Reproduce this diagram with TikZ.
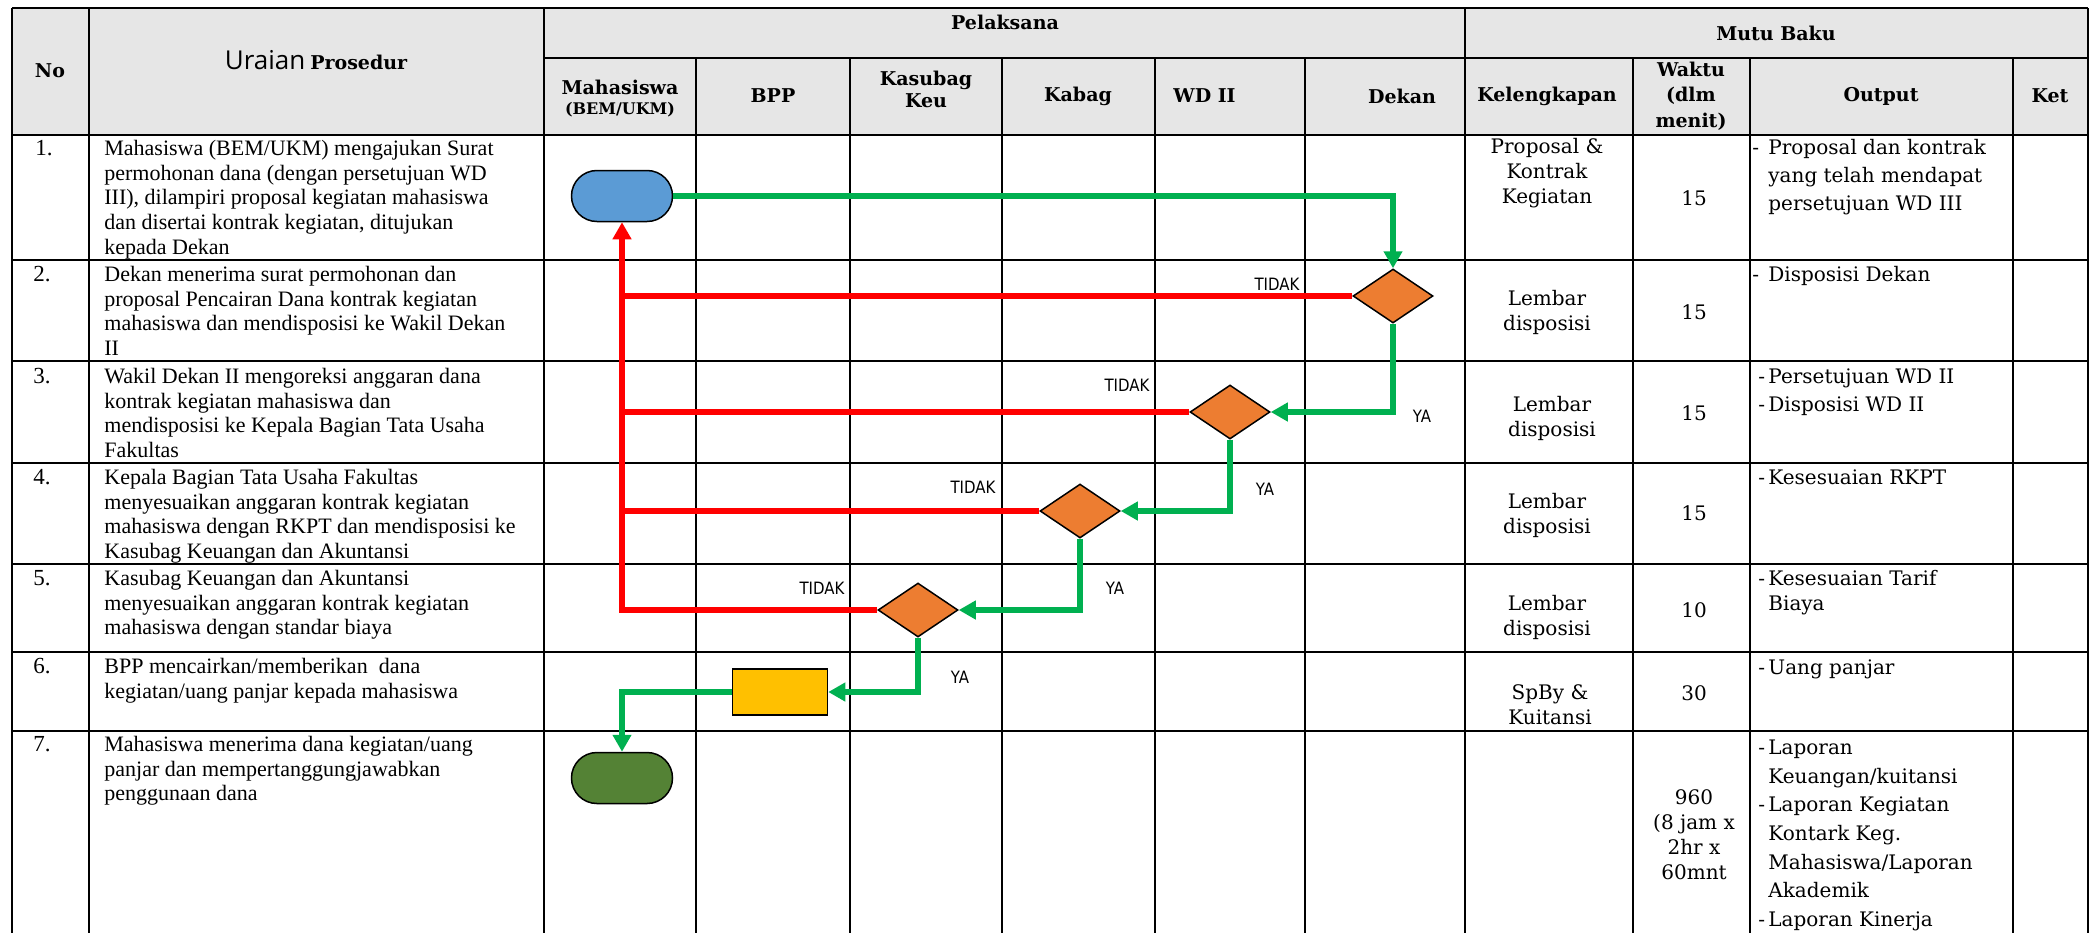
\documentclass[tikz,border=0pt]{standalone}
\usepackage{fontspec}
\setmainfont{Liberation Serif}
\newfontfamily\hdfont{DejaVu Serif}
\newfontfamily\mbfont{DejaVu Serif}
\newfontfamily\uraianfont{Open Sans}
\newfontfamily\lblfont[FakeStretch=0.88]{DejaVu Sans}
\usetikzlibrary{arrows.meta,shapes.geometric}
\definecolor{hdgray}{HTML}{E6E6E6}
\definecolor{flowgreen}{HTML}{00B050}
\definecolor{flowred}{HTML}{FF0000}
\definecolor{termblue}{HTML}{5B9BD5}
\definecolor{termgreen}{HTML}{548235}
\definecolor{decorange}{HTML}{ED7D31}
\definecolor{procyellow}{HTML}{FFC000}
\newcommand\firststrut{\rule{0pt}{8pt}}
\newcommand\dashA{\makebox[8pt][l]{-}}
\newcommand\dashB{\hspace*{3pt}\makebox[5pt][l]{-}}
\newcommand\indnt{\hspace*{8pt}}
\tikzset{
  gridln/.style={line width=0.7pt, black},
  gridthick/.style={line width=1.1pt, black},
  hd/.style={font=\hdfont\bfseries\fontsize{9.5}{12}\selectfont, align=center, inner sep=0pt},
  num/.style={font=\fontsize{11.5}{13}\selectfont, anchor=base west, inner sep=0pt},
  ur/.style={font=\fontsize{11}{12.35}\selectfont, anchor=north west, align=left, inner sep=0pt},
  mb/.style={font=\mbfont\fontsize{10}{12.5}\selectfont, align=center, inner sep=0pt},
  outp/.style={font=\mbfont\fontsize{10}{14}\selectfont, anchor=north west, align=left, inner sep=0pt},
  lbl/.style={font=\lblfont\fontsize{8.5}{10}\selectfont, inner sep=0pt},
  term/.style={draw=black, line width=0.75pt, rounded corners=12.7pt, minimum width=50.5pt, minimum height=25.5pt, inner sep=0pt},
  dec/.style={diamond, draw=black, line width=0.75pt, fill=decorange, minimum width=40pt, minimum height=27pt, inner sep=0pt},
  proc/.style={draw=black, line width=0.75pt, fill=procyellow, minimum width=47.5pt, minimum height=23pt, inner sep=0pt},
  gline/.style={draw=flowgreen, line width=2.8pt, -{Triangle[length=8.5pt,width=9pt]}},
  rline/.style={draw=flowred, line width=2.8pt},
  rarrow/.style={rline, -{Triangle[length=8.5pt,width=9pt]}},
}
\begin{document}
\begin{tikzpicture}[x=0.5pt,y=-0.5pt]
\useasboundingbox (0,0) rectangle (2098,933);
\fill[white] (0,0) rectangle (2098,933);
% header background
\fill[hdgray] (12,8) rectangle (2088,135);
% horizontal lines
\draw[gridthick] (12,8) -- (2088,8);
\draw[gridln] (544,58) -- (2088,58);
\draw[gridthick] (12,135) -- (2088,135);
\foreach \yy in {260,361,463,564,652,731} \draw[gridln] (12,\yy) -- (2088,\yy);
% vertical lines
\foreach \xx in {12,89,544,1465,2088} \draw[gridthick] (\xx,8) -- (\xx,933);
\foreach \xx in {696,850,1002,1155,1305} \draw[gridln] (\xx,58) -- (\xx,933);
\foreach \xx in {1633,1750,2013} \draw[gridthick] (\xx,58) -- (\xx,933);
% header texts
\node[hd] (hNo) at (50,71) {No};
\node[inner sep=0pt] (hUr) at (316,60) {{\uraianfont\fontsize{13}{15}\selectfont Uraian} {\hdfont\bfseries\fontsize{9.5}{12}\selectfont Prosedur}};
\node[hd] (hPel) at (1005,22) {Pelaksana};
\node[hd] (hMutu) at (1776,33) {Mutu Baku};
\node[hd] (hMah1) at (620,87) {Mahasiswa};
\node[hd, font=\hdfont\bfseries\fontsize{8}{10}\selectfont] (hMah2) at (620,110) {(BEM/UKM)};
\node[hd] (hBPP) at (773,96) {BPP};
\node[hd, font=\hdfont\bfseries\fontsize{9.5}{11}\selectfont] (hKas) at (926,89) {Kasubag\\Keu};
\node[hd] (hKab) at (1078,96) {Kabag};
\node[hd, anchor=west] (hWD) at (1173,96) {WD II};
\node[hd] (hDek) at (1402,96) {Dekan};
\node[hd] (hKel) at (1547,96) {Kelengkapan};
\node[hd, font=\hdfont\bfseries\fontsize{9.5}{12.75}\selectfont] (hWak) at (1691,96) {Waktu\\(dlm\\menit)};
\node[hd] (hOut) at (1881,96) {Output};
\node[hd] (hKet) at (2050,96) {Ket};
% numbers
\node[num] (n1) at (35,155) {1.};
\node[num] (n2) at (33,281) {2.};
\node[num] (n3) at (33,383) {3.};
\node[num] (n4) at (33,484) {4.};
\node[num] (n5) at (33,585) {5.};
\node[num] (n6) at (33,673) {6.};
\node[num] (n7) at (33,751) {7.};
% uraian
\node[ur] (u1) at (104,139) {\firststrut Mahasiswa (BEM/UKM) mengajukan Surat\\permohonan dana (dengan persetujuan WD\\III), dilampiri proposal kegiatan mahasiswa\\dan disertai kontrak kegiatan, ditujukan\\kepada Dekan};
\node[ur] (u2) at (104,265) {\firststrut Dekan menerima surat permohonan dan\\proposal Pencairan Dana kontrak kegiatan\\mahasiswa dan mendisposisi ke Wakil Dekan\\II};
\node[ur] (u3) at (104,367) {\firststrut Wakil Dekan II mengoreksi anggaran dana\\kontrak kegiatan mahasiswa dan\\mendisposisi ke Kepala Bagian Tata Usaha\\Fakultas};
\node[ur] (u4) at (104,468) {\firststrut Kepala Bagian Tata Usaha Fakultas\\menyesuaikan anggaran kontrak kegiatan\\mahasiswa dengan RKPT dan mendisposisi ke\\Kasubag Keuangan dan Akuntansi};
\node[ur] (u5) at (104,569) {\firststrut Kasubag Keuangan dan Akuntansi\\menyesuaikan anggaran kontrak kegiatan\\mahasiswa dengan standar biaya};
\node[ur] (u6) at (104,657) {\firststrut BPP mencairkan/memberikan\ \ dana\\kegiatan/uang panjar kepada mahasiswa};
\node[ur] (u7) at (104,735) {\firststrut Mahasiswa menerima dana kegiatan/uang\\panjar dan mempertanggungjawabkan\\penggunaan dana};
% kelengkapan
\node[mb] (k1) at (1547,173) {Proposal \&\\Kontrak\\Kegiatan};
\node[mb] (k2) at (1547,312) {Lembar\\disposisi};
\node[mb] (k3) at (1552,418) {Lembar\\disposisi};
\node[mb] (k4) at (1547,515) {Lembar\\disposisi};
\node[mb] (k5) at (1547,617) {Lembar\\disposisi};
\node[mb] (k6) at (1550,705) {SpBy \&\\Kuitansi};
% waktu
\node[mb] (w1) at (1694,198) {15};
\node[mb] (w2) at (1694,312) {15};
\node[mb] (w3) at (1694,413) {15};
\node[mb] (w4) at (1694,513) {15};
\node[mb] (w5) at (1694,610) {10};
\node[mb] (w6) at (1694,693) {30};
\node[mb] (w7) at (1694,835) {960\\(8 jam x\\2hr x\\60mnt};
% output
\node[outp] (o1) at (1752,138) {\firststrut\dashA Proposal dan kontrak\\\indnt yang telah mendapat\\\indnt persetujuan WD III};
\node[outp] (o2) at (1752,265) {\firststrut\dashA Disposisi Dekan};
\node[outp] (o3) at (1752,367) {\firststrut\dashB Persetujuan WD II\\\dashB Disposisi WD II};
\node[outp] (o4) at (1752,468) {\firststrut\dashB Kesesuaian RKPT};
\node[outp, font=\mbfont\fontsize{10}{12.5}\selectfont] (o5) at (1752,569) {\firststrut\dashB Kesesuaian Tarif\\\indnt Biaya};
\node[outp] (o6) at (1752,658) {\firststrut\dashB Uang panjar};
\node[outp, font=\mbfont\fontsize{10}{14.35}\selectfont] (o7) at (1752,738) {\firststrut\dashB Laporan\\\indnt Keuangan/kuitansi\\\dashB Laporan Kegiatan\\\indnt Kontark Keg.\\\indnt Mahasiswa/Laporan\\\indnt Akademik\\\dashB Laporan Kinerja};
% flow shapes
\node[term, fill=termblue] (tStart) at (622,196) {};
\node[dec] (d1) at (1393,296) {};
\node[dec] (d2) at (1230,412) {};
\node[dec] (d3) at (1080,511) {};
\node[dec] (d4) at (918,610) {};
\node[proc] (pBPP) at (780,692) {};
\node[term, fill=termgreen] (tEnd) at (622,778) {};
% connectors
\draw[gline] (tStart.east) -| (d1.north);
\draw[rline] (d1.west) -- (d1.west -| tStart.south);
\draw[gline] (d1.south) |- (d2.east);
\draw[rline] (d2.west) -- (d2.west -| tStart.south);
\draw[gline] (d2.south) |- (d3.east);
\draw[rline] (d3.west) -- (d3.west -| tStart.south);
\draw[gline] (d3.south) |- (d4.east);
\draw[rarrow] (d4.west) -| (tStart.south);
\draw[gline] (d4.south) |- (pBPP.east);
\draw[gline] (pBPP.west) -| (tEnd.north);
% labels
\node[lbl] (t1) at (1277,284) {TIDAK};
\node[lbl] (t2) at (1127,385) {TIDAK};
\node[lbl] (t3) at (973,487) {TIDAK};
\node[lbl] (t4) at (822,588) {TIDAK};
\node[lbl] (y1) at (1422,416) {YA};
\node[lbl] (y2) at (1265,489) {YA};
\node[lbl] (y3) at (1115,588) {YA};
\node[lbl] (y4) at (960,677) {YA};
\end{tikzpicture}
\end{document}
